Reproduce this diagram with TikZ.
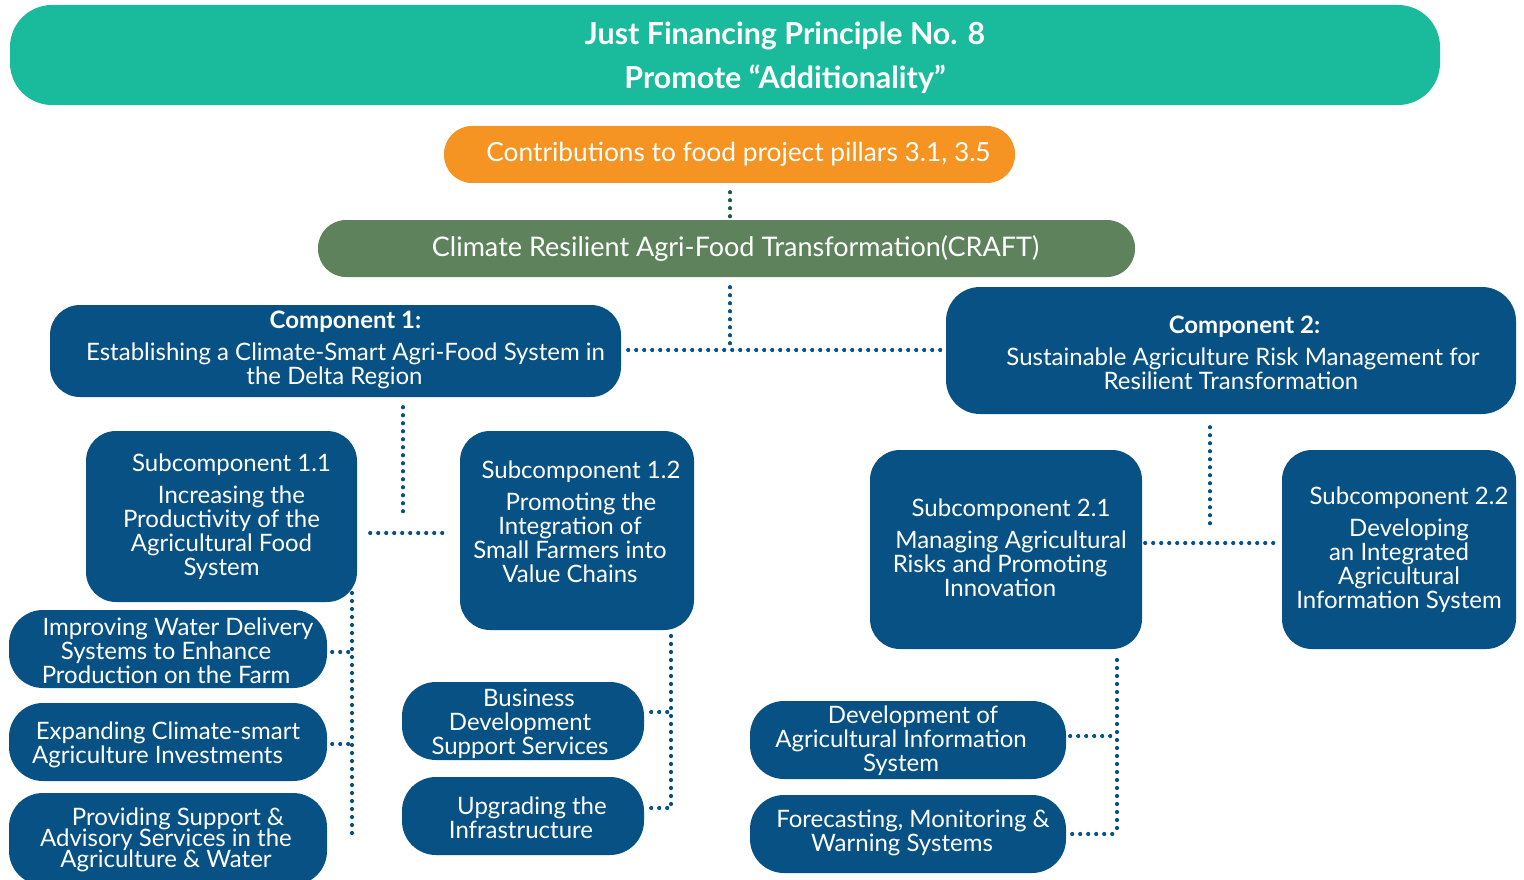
\documentclass[tikz,border=0pt]{standalone}
\usepackage{fontspec}
\setmainfont{Lato}
\newcommand\mytightlines{\lineskiplimit=-100pt\relax}
\definecolor{cteal}{HTML}{1ABB9C}
\definecolor{corange}{HTML}{F59422}
\definecolor{cgreen}{HTML}{5E825C}
\definecolor{cblue}{HTML}{075185}
\definecolor{cdotg}{HTML}{1B5E3B}
\tikzset{
  box/.style={fill=cblue, inner sep=0pt, rounded corners=30pt},
  leaf/.style={box, rounded corners=34pt, minimum height=78pt},
  txt/.style={text=white, align=center, inner sep=0pt, font=\fontsize{24}{24}\selectfont},
  pill/.style={text=white, align=center, inner sep=0pt, rounded corners=28pt},
  dots/.style={draw=cblue, line width=4.2pt, line cap=round, dash pattern=on 0pt off 8pt},
}
\begin{document}
\begin{tikzpicture}[x=1pt,y=-1pt]
\useasboundingbox (0,0) rectangle (1524,880);
% top
\node[pill, fill=cteal, rounded corners=42pt, minimum width=1430pt, minimum height=100pt] (title) at (725,55) {};
\node[txt, font=\fontsize{30.4}{44}\selectfont\bfseries] (titlet) at ([xshift=60pt,yshift=-3pt]title.center)
  {Just Financing Principle No. 8\\Promote “Additionality”};
\node[pill, fill=corange, minimum width=571pt, minimum height=57pt,
  font=\fontsize{26.3}{30}\selectfont] (orange) at (729.5,154.5) {\hspace{18pt}Contributions to food project pillars 3.1, 3.5};
\node[pill, fill=cgreen, minimum width=817pt, minimum height=57pt,
  font=\fontsize{27}{30}\selectfont] (green) at (726.5,248.5) {\hspace{18pt}Climate Resilient Agri-Food Transformation(CRAFT)};
% components
\node[box, minimum width=571pt, minimum height=92pt] (c1) at (335.5,351) {};
\node[txt] (c1t) at ([xshift=10pt,yshift=1pt]c1.center)
  {\textbf{Component 1:}\\[8pt]Establishing a Climate-Smart Agri-Food System in\\\hspace*{-22pt}the Delta Region};
\node[box, minimum width=570pt, minimum height=127pt, rounded corners=34pt] (c2) at (1231,350.5) {};
\node[txt] (c2t) at ([yshift=-2pt]c2.center)
  {\hspace*{27pt}\textbf{Component 2:}\\[8pt]\hspace*{24pt}Sustainable Agriculture Risk Management for\\Resilient Transformation};
% subcomponents
\node[box, minimum width=271pt, minimum height=171pt] (s11) at (221.5,516.5) {};
\node[txt] (s11t) at (s11.center)
  {\hspace*{20pt}Subcomponent 1.1\\[8pt]\hspace*{20pt}Increasing the\\Productivity of the\\Agricultural Food\\System};
\node[box, minimum width=234pt, minimum height=199pt] (s12) at (577,530.5) {};
\node[txt] (s12t) at ([xshift=-7pt,yshift=9pt]s12.center)
  {\hspace*{22pt}Subcomponent 1.2\\[8pt]\hspace*{22pt}Promoting the\\Integration of\\Small Farmers into\\Value Chains};
\node[box, minimum width=272pt, minimum height=199pt] (s21) at (1006,549.5) {};
\node[txt] (s21t) at ([xshift=-6pt,yshift=2pt]s21.center)
  {\hspace*{22pt}Subcomponent 2.1\\[8pt]\hspace*{22pt}Managing Agricultural\\Risks and Promoting\\Innovation};
\node[box, minimum width=234pt, minimum height=199pt] (s22) at (1399,549.5) {};
\node[txt] (s22t) at (s22.center)
  {\hspace*{20pt}Subcomponent 2.2\\[8pt]\hspace*{20pt}Developing\\an Integrated\\Agricultural\\Information System};
% leaves left
\node[leaf, minimum width=318pt] (l1) at (168,649) {};
\node[txt] (l1t) at ([xshift=-2pt,yshift=-2pt]l1.center)
  {\hspace*{24pt}Improving Water Delivery\\Systems to Enhance\\Production on the Farm};
\node[leaf, minimum width=318pt] (l2) at (168,742) {};
\node[txt] (l2t) at ([yshift=-3pt]l2.center)
  {Expanding Climate-smart\\\hspace*{-21pt}Agriculture Investments};
\node[leaf, minimum width=318pt, minimum height=92pt] (l3) at (168,839) {};
\node[txt, font=\fontsize{24}{21}\selectfont\mytightlines] (l3t) at ([xshift=-2pt,yshift=-1pt]l3.center)
  {\hspace*{24pt}Providing Support \&\\Advisory Services in the\\Agriculture \& Water};
% leaves middle
\node[leaf, minimum width=242pt] (m1) at (523,721) {};
\node[txt] (m1t) at ([xshift=-3pt,yshift=-3pt]m1.center)
  {\hspace*{18pt}Business\\Development\\Support Services};
\node[leaf, minimum width=242pt] (m2) at (523,816) {};
\node[txt] (m2t) at ([xshift=-2pt,yshift=-2pt]m2.center)
  {\hspace*{22pt}Upgrading the\\Infrastructure};
% leaves right
\node[leaf, minimum width=316pt] (r1) at (908,740) {};
\node[txt] (r1t) at ([xshift=-7pt,yshift=-1pt]r1.center)
  {\hspace*{24pt}Development of\\Agricultural Information\\System};
\node[leaf, minimum width=316pt] (r2) at (908,834) {};
\node[txt] (r2t) at ([xshift=-6pt,yshift=1pt]r2.center)
  {\hspace*{22pt}Forecasting, Monitoring \&\\Warning Systems};
% junction coordinates
\coordinate (j0) at (730,350);
\coordinate (v1) at (403,512);
\coordinate (h1) at (403,533);
\coordinate (v2) at (1210,530);
\coordinate (h2) at (1210,543);
\coordinate (lbt) at (352,593);
\coordinate (lb) at (352,840);
\coordinate (lj1) at (352,652);
\coordinate (lj2) at (352,744);
\coordinate (mbt) at (671,636);
\coordinate (mj1) at (671,712);
\coordinate (mj2) at (671,808);
\coordinate (rbt) at (1117,660);
\coordinate (rj1) at (1117,736);
\coordinate (rj2) at (1117,834);
% connectors
\draw[dots, draw=cdotg, shorten <=9pt, shorten >=2pt] (orange.south -| j0) -- (green.north -| j0);
\draw[dots, shorten <=10pt] (green.south -| j0) -- (j0);
\draw[dots, shorten <=7pt, shorten >=5pt] (c1.east |- j0) -- (c2.west |- j0);
\draw[dots, shorten <=10pt] (c1.south -| v1) -- (v1);
\draw[dots, shorten <=13pt, shorten >=13pt] (s11.east |- h1) -- (s12.west |- h1);
\draw[dots, shorten <=13pt] (c2.south -| v2) -- (v2);
\draw[dots, shorten <=3pt, shorten >=3pt] (s21.east |- h2) -- (s22.west |- h2);
\draw[dots] (lbt) -- (lb);
\draw[dots, shorten <=5pt] (l1.east |- lj1) -- (lj1);
\draw[dots, shorten <=5pt] (l2.east |- lj2) -- (lj2);
\draw[dots] (mbt) -- (mj2);
\draw[dots, shorten <=7pt] (m1.east |- mj1) -- (mj1);
\draw[dots, shorten <=7pt] (m2.east |- mj2) -- (mj2);
\draw[dots] (rbt) -- (rj2);
\draw[dots, shorten <=4pt] (r1.east |- rj1) -- (rj1);
\draw[dots, shorten <=6pt] (r2.east |- rj2) -- (rj2);
\end{tikzpicture}
\end{document}
